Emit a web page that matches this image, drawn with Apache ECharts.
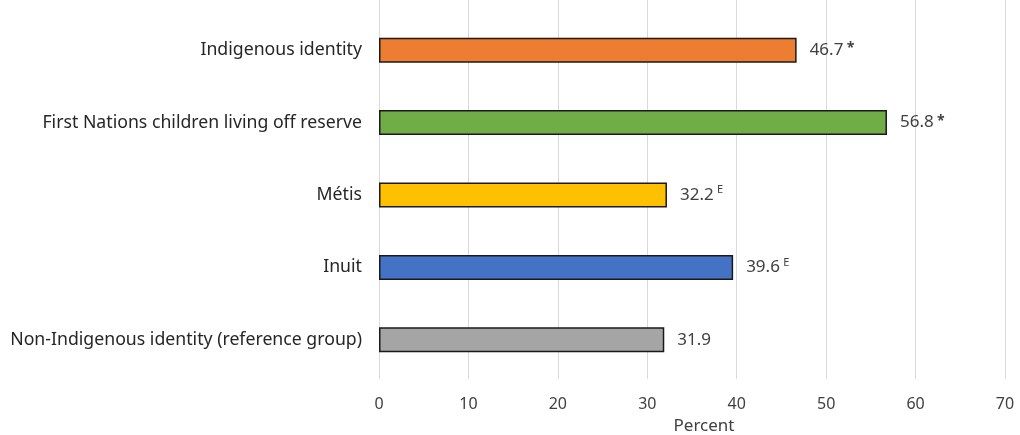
<!DOCTYPE html>
<html>
<head>
<meta charset="utf-8">
<script src="https://cdn.jsdelivr.net/npm/echarts@6/dist/echarts.min.js"></script>
<style>html,body{margin:0;padding:0;background:#fff}#c{width:1020px;height:435px}</style>
</head>
<body>
<div id="c"></div>
<script>
const categories = ["Indigenous identity", "First Nations children living off reserve", "Métis", "Inuit", "Non-Indigenous identity (reference group)"];
const values = [46.7, 56.8, 32.2, 39.6, 31.9];
const notes = ["*", "*", "E", "E", ""];
const colors = ["#ED7D31", "#70AD47", "#FFC000", "#4472C4", "#A5A5A5"];
const xTicks = [0, 10, 20, 30, 40, 50, 60, 70];

const FONT = "Noto Sans";
const chart = echarts.init(document.getElementById('c'));
const data = values.map((v, i) => ({
  value: v,
  note: notes[i],
  itemStyle: { color: colors[i] }
}));
chart.setOption({
  animation: false,
  grid: [
    { left: 379, right: 15, top: 14, bottom: 59, containLabel: false, outerBoundsMode: 'none' },
    { left: 379, right: 15, top: 0, bottom: 56, containLabel: false, outerBoundsMode: 'none' }
  ],
  xAxis: [
    {
      gridIndex: 0, type: 'value', min: xTicks[0], max: xTicks[xTicks.length - 1], interval: 10,
      axisLine: { show: false }, axisTick: { show: false }, splitLine: { show: false },
      axisLabel: { color: '#404040', fontSize: 16, fontFamily: FONT, margin: 20 },
      name: 'Percent', nameLocation: 'middle', nameGap: 42,
      nameTextStyle: { color: '#404040', fontSize: 17, fontFamily: FONT, padding: [0, 0, 0, 24] }
    },
    {
      gridIndex: 1, type: 'value', min: xTicks[0], max: xTicks[xTicks.length - 1], interval: 10,
      axisLine: { show: false }, axisTick: { show: false }, axisLabel: { show: false },
      splitLine: { show: true, lineStyle: { color: '#D9D9D9', width: 1 } }
    }
  ],
  yAxis: [
    {
      gridIndex: 0, type: 'category', data: categories, inverse: true,
      axisLine: { show: false }, axisTick: { show: false },
      axisLabel: { color: '#262626', fontSize: 17.7, fontFamily: FONT, margin: 17 }
    },
    { gridIndex: 1, type: 'value', min: 0, max: 1, show: false }
  ],
  series: [
    {
      type: 'bar', xAxisIndex: 0, yAxisIndex: 0, data: data, barWidth: 25,
      itemStyle: { borderColor: '#1A1A1A', borderWidth: 1.5 },
      label: {
        show: true, position: 'right', distance: 13,
        formatter: p => {
          const n = p.data.note;
          if (!n) return `{v|${p.value.toFixed(1)}}`;
          return n === '*' ? `{v|${p.value.toFixed(1)}} {a|*}` : `{v|${p.value.toFixed(1)}} {s|${n}}`;
        },
        rich: {
          v: { color: '#404040', fontSize: 17, fontFamily: FONT },
          a: { color: '#404040', fontSize: 14, fontWeight: 'bold', fontFamily: FONT, verticalAlign: 'top', padding: [0, 0, 4, 0] },
          s: { color: '#404040', fontSize: 11, fontFamily: FONT, verticalAlign: 'top', padding: [0, 0, 10, 0] }
        }
      }
    },
    { type: 'line', xAxisIndex: 1, yAxisIndex: 1, data: [], silent: true }
  ]
});
</script>
</body>
</html>
